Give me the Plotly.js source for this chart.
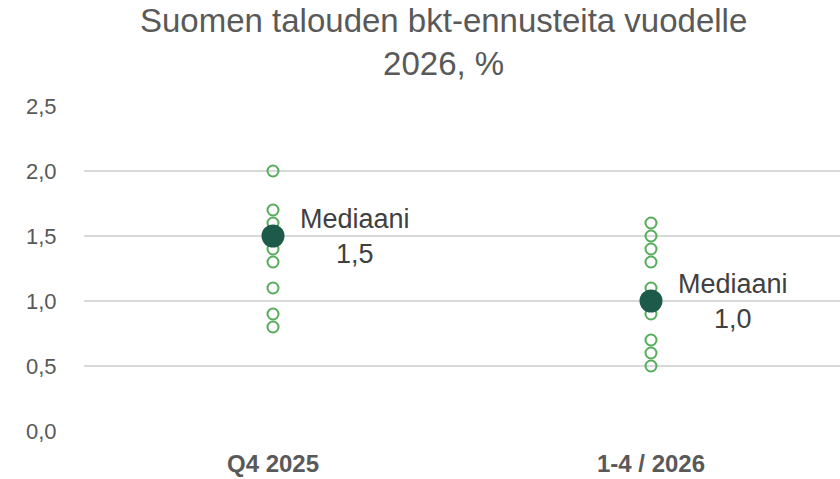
<!DOCTYPE html>
<html>
<head>
<meta charset="utf-8">
<script src="https://cdn.plot.ly/plotly-3.0.1.min.js"></script>
<style>html,body{margin:0;padding:0;background:#fff;}#chart{width:840px;height:479px;}</style>
</head>
<body>
<div id="chart"></div>
<script>
const categories = ["Q4 2025", "1-4 / 2026"];
const forecastsQ4 = [2.0, 1.7, 1.6, 1.5, 1.4, 1.3, 1.1, 0.9, 0.8];
const forecasts2026 = [1.6, 1.5, 1.4, 1.3, 1.1, 1.0, 0.9, 0.7, 0.6, 0.5];
const medians = [1.5, 1.0];
const medianLabels = ["Mediaani<br>1,5", "Mediaani<br>1,0"];
const titleText = "Suomen talouden bkt-ennusteita vuodelle<br>2026, %";

const FONT = "Liberation Sans, Arial, sans-serif";
const ptColor = "#55ad5a";
const traces = [
  {
    type: "scatter", mode: "markers",
    x: forecastsQ4.map(() => categories[0]).concat(forecasts2026.map(() => categories[1])),
    y: forecastsQ4.concat(forecasts2026),
    marker: {symbol: "circle-open", size: 11, color: ptColor, line: {width: 2, color: ptColor}},
    hoverinfo: "y", showlegend: false
  },
  {
    type: "scatter", mode: "markers",
    x: categories, y: medians,
    marker: {symbol: "circle", size: 23, color: "#1d5a4a"},
    hoverinfo: "y", showlegend: false
  }
];

const annotations = categories.map((c, i) => ({
  x: c, y: medians[i], xref: "x", yref: "y",
  text: medianLabels[i], showarrow: false,
  xshift: 82, yshift: 0,
  font: {family: FONT, size: 27, color: "#404040"},
  align: "center"
}));
annotations.push({
  x: 0.475, y: 1.325, xref: "paper", yref: "paper",
  xanchor: "center", yanchor: "top",
  text: titleText, showarrow: false,
  font: {family: FONT, size: 33, color: "#595959"},
  align: "center"
});

const layout = {
  width: 840, height: 479,
  paper_bgcolor: "#fff", plot_bgcolor: "#fff",
  margin: {l: 84, r: 0, t: 106, b: 48},
  separators: ", ",
  xaxis: {
    type: "category", range: [-0.5, 1.5],
    showgrid: false, zeroline: false, showline: false,
    ticks: "outside", ticklen: 11, tickcolor: "rgba(0,0,0,0)",
    tickfont: {family: FONT, size: 24, color: "#595959", weight: "bold"}
  },
  yaxis: {
    range: [0, 2.5], dtick: 0.5, tickformat: ".1f",
    showgrid: true, gridcolor: "#d9d9d9", gridwidth: 1.3,
    zeroline: false, showline: false,
    ticks: "outside", ticklen: 22, tickcolor: "rgba(0,0,0,0)",
    tickfont: {family: FONT, size: 22, color: "#595959"}
  },
  annotations: annotations
};

Plotly.newPlot("chart", traces, layout, {displayModeBar: false, staticPlot: true});
</script>
</body>
</html>
